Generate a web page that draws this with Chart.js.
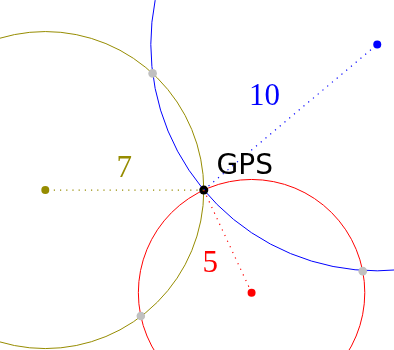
<!DOCTYPE html>
<html>
<head>
<meta charset="utf-8">
<script src="https://cdn.jsdelivr.net/npm/chart.js@4"></script>
<style>
  html, body { margin: 0; padding: 0; background: #fff; }
  canvas { display: block; }
</style>
</head>
<body>
<canvas id="gps" width="394" height="350"></canvas>
<script>
// satellites (units), GPS receiver sits at the origin
const satNames = ['olive', 'blue', 'red'];
const satX = [-7, 7.66, 2.11];
const satY = [0, 6.43, -4.53];
const satDist = [7, 10, 5];
const satColors = ['#968c00', '#0000ff', '#ff0000'];

// the other crossing of each pair of circles
const crossX = [-2.26, 7.02, -2.78];
const crossY = [5.15, -3.58, -5.56];

// labels
const distLabels = ['7', '10', '5'];
const distLabelX = [-3.51, 2.68, 0.28];
const distLabelY = [0.97, 4.16, -3.21];
const gpsLabel = 'GPS';
const gpsLabelX = 1.81;
const gpsLabelY = 1.07;

const datasets = [];

satNames.forEach((n, i) => {
  datasets.push({
    label: n + ' line',
    data: [{x: 0, y: 0}, {x: satX[i], y: satY[i]}],
    showLine: true,
    borderColor: satColors[i],
    borderWidth: 1.2,
    borderDash: [1.2, 5],
    pointRadius: 0
  });
});

datasets.push({
  label: 'crossings',
  data: crossX.map((x, i) => ({x: x, y: crossY[i]})),
  pointRadius: 4.3,
  pointBackgroundColor: '#c0c0c0',
  pointBorderWidth: 0
});

datasets.push({
  label: 'satellites',
  data: satX.map((x, i) => ({x: x, y: satY[i]})),
  pointRadius: 4,
  pointBackgroundColor: satColors,
  pointBorderWidth: 0
});

datasets.push({
  label: 'gps',
  data: [{x: 0, y: 0}],
  pointRadius: 4.5,
  pointBackgroundColor: '#000',
  pointBorderWidth: 0
});

const circles = {
  id: 'circles',
  beforeDatasetsDraw(chart) {
    const {ctx, scales: {x, y}} = chart;
    ctx.save();
    ctx.lineWidth = 1;
    satNames.forEach((n, i) => {
      const cx = x.getPixelForValue(satX[i]);
      const cy = y.getPixelForValue(satY[i]);
      const r = x.getPixelForValue(satX[i] + satDist[i]) - cx;
      ctx.strokeStyle = satColors[i];
      ctx.beginPath();
      ctx.arc(cx, cy, r, 0, Math.PI * 2);
      ctx.stroke();
    });
    ctx.restore();
  },
  afterDatasetsDraw(chart) {
    const {ctx, scales: {x, y}} = chart;
    ctx.save();
    ctx.textAlign = 'center';
    ctx.textBaseline = 'middle';
    ctx.font = '31px "Liberation Serif", serif';
    distLabels.forEach((t, i) => {
      ctx.fillStyle = satColors[i];
      ctx.fillText(t, x.getPixelForValue(distLabelX[i]), y.getPixelForValue(distLabelY[i]) + 1);
    });
    ctx.fillStyle = '#000';
    ctx.font = '28px "DejaVu Sans", sans-serif';
    ctx.fillText(gpsLabel, x.getPixelForValue(gpsLabelX), y.getPixelForValue(gpsLabelY) + 1);
    ctx.restore();
  }
};

new Chart(document.getElementById('gps'), {
  type: 'scatter',
  data: { datasets: datasets },
  options: {
    responsive: false,
    animation: false,
    layout: { padding: 0, autoPadding: false },
    plugins: { legend: { display: false }, tooltip: { enabled: false } },
    scales: {
      x: { type: 'linear', min: -9.0, max: 8.4, display: false },
      y: { type: 'linear', min: -7.06, max: 8.39, display: false }
    }
  },
  plugins: [circles]
});
</script>
</body>
</html>
